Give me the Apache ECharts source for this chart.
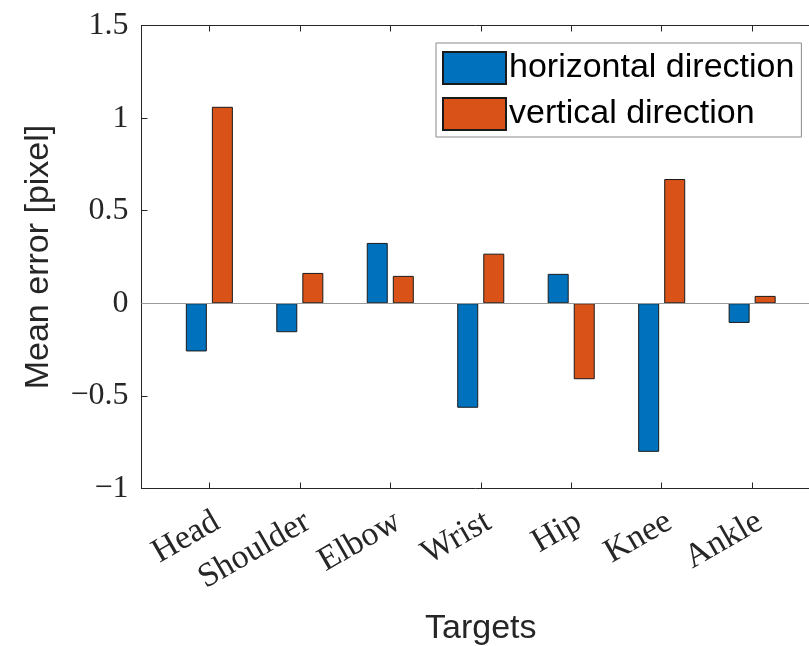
<!DOCTYPE html>
<html><head><meta charset="utf-8">
<script src="https://cdn.jsdelivr.net/npm/echarts@6/dist/echarts.min.js"></script>
<style>html,body{margin:0;padding:0;background:#fff}#c{width:809px;height:646px}</style>
</head><body><div id="c"></div>
<script>
var categories = ['Head','Shoulder','Elbow','Wrist','Hip','Knee','Ankle'];
var horizontal = [-0.26, -0.156, 0.326, -0.564, 0.159, -0.802, -0.106];
var vertical = [1.061, 0.164, 0.148, 0.268, -0.41, 0.671, 0.04];
var yTicks = [-1, -0.5, 0, 0.5, 1, 1.5];
var seriesNames = ['horizontal direction', 'vertical direction'];

var positions = categories.map(function(c,i){return i+1;});
var serif = '"Liberation Serif", "DejaVu Serif", serif';
var sans = '"Liberation Sans", Arial, sans-serif';
var axisCol = '#262626';

var chart = echarts.init(document.getElementById('c'), null, {renderer:'canvas'});
function mk(vals){ return vals.map(function(v,i){return [positions[i], v];}); }
chart.setOption({
  animation: false,
  backgroundColor: '#fff',
  grid: {left: 141.5, top: 25.5, width: 678.5, height: 463, containLabel: false, outerBoundsMode: 'none'},
  legend: {
    orient: 'vertical', left: 436, top: 43,
    itemWidth: 63, itemHeight: 32, itemGap: 12,
    padding: [8, 7, 6, 6],
    borderColor: '#8a8a8a', borderWidth: 1, backgroundColor: '#fff',
    textStyle: {fontFamily: sans, fontSize: 34, lineHeight: 32, color: '#000', padding: [0,0,0,-2]},
    icon: 'rect',
    data: seriesNames
  },
  xAxis: [{
    type: 'value', min: 0.25, max: 7.75, position: 'bottom',
    name: 'Targets', nameLocation: 'middle', nameGap: 123,
    nameTextStyle: {fontFamily: sans, fontSize: 34, color: axisCol},
    axisLine: {show: true, onZero: false, lineStyle: {color: axisCol, width: 1}},
    axisTick: {show: true, inside: true, length: 6, customValues: positions, lineStyle: {color: axisCol}},
    axisLabel: {show: true, rotate: 30, margin: 31, fontFamily: serif, fontSize: 34, color: axisCol,
      customValues: positions.map(function(p){return p + 0.085;}),
      formatter: function(v){ return categories[Math.round(v)-1] || ''; }},
    splitLine: {show: false}
  },{
    type: 'value', min: 0.25, max: 7.75, position: 'top',
    axisLine: {show: true, onZero: false, lineStyle: {color: axisCol, width: 1}},
    axisTick: {show: true, inside: true, length: 6, customValues: positions, lineStyle: {color: axisCol}},
    axisLabel: {show: false}, splitLine: {show: false}
  }],
  yAxis: [{
    type: 'value', min: -1, max: 1.5, interval: 0.5, position: 'left',
    name: 'Mean error [pixel]', nameLocation: 'middle', nameGap: 86, nameRotate: 90,
    nameTextStyle: {fontFamily: sans, fontSize: 34, color: axisCol},
    axisLine: {show: true, onZero: false, lineStyle: {color: axisCol, width: 1}},
    axisTick: {show: true, inside: true, length: 6, lineStyle: {color: axisCol}},
    axisLabel: {fontFamily: serif, fontSize: 32, color: axisCol, margin: 13,
      formatter: function(v){ return String(v).replace('-', '\u2212'); }},
    splitLine: {show: false}
  }],
  series: [{
    name: seriesNames[0], type: 'bar', data: mk(horizontal),
    barWidth: 21, barGap: '24%',
    itemStyle: {color: '#0072BD', borderColor: '#1a1a1a', borderWidth: 1},
    markLine: {silent: true, symbol: 'none', label: {show: false},
      lineStyle: {color: '#9a9a9a', type: 'solid', width: 1}, data: [{yAxis: 0}]}
  },{
    name: seriesNames[1], type: 'bar', data: mk(vertical),
    barWidth: 21, barGap: '24%',
    itemStyle: {color: '#D95319', borderColor: '#1a1a1a', borderWidth: 1}
  }]
});
</script></body></html>
